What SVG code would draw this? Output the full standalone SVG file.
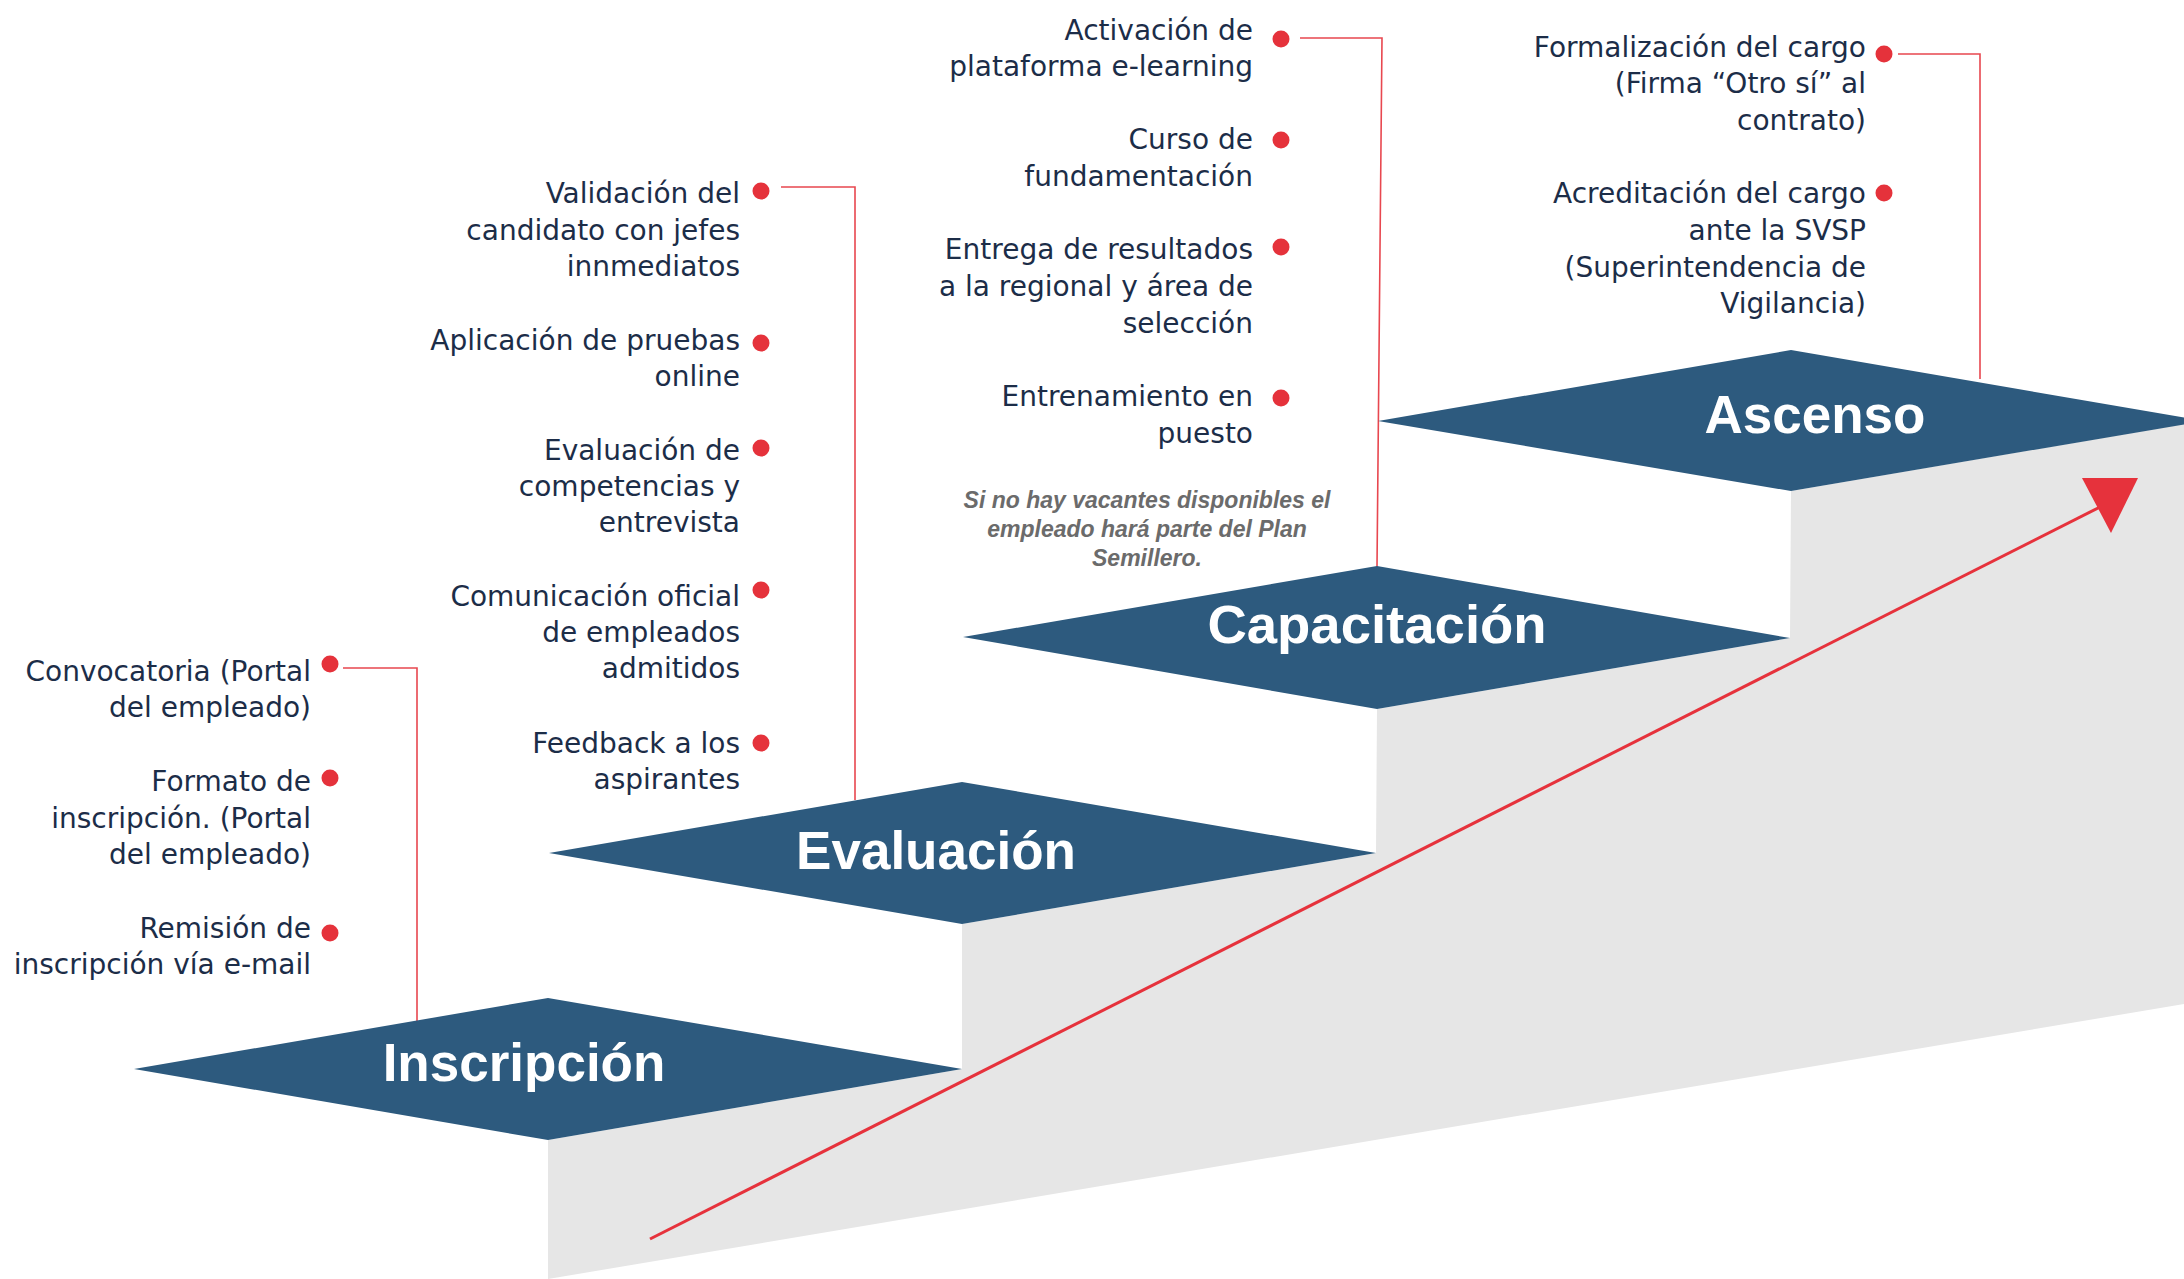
<svg xmlns="http://www.w3.org/2000/svg" width="2184" height="1279" viewBox="0 0 2184 1279">
<style>
.item{font-family:"DejaVu Sans",sans-serif;font-size:28px;fill:#1c2d48;text-anchor:end}
.label{font-family:"Liberation Sans",Arial,sans-serif;font-weight:bold;font-size:53px;fill:#ffffff;text-anchor:middle}
.note{font-family:"Liberation Sans",Arial,sans-serif;font-weight:bold;font-style:italic;font-size:23px;fill:#6b6b6b;text-anchor:middle}
.dia{fill:#2d5a7e}
.dot{fill:#e5323b}
.conn{fill:none;stroke:#e8474f;stroke-width:1.6}
</style>
<rect width="2184" height="1279" fill="#ffffff"/>
<polygon id="stairs-shadow" fill="#e6e6e6" points="548,1140 962,1069 962,924 1376,853 1377,709 1790,638 1791,491 2184,424 2184,1004 548,1279"/>
<g id="connectors">
<path class="conn" d="M343,668 H417 V1021"/>
<path class="conn" d="M781,187 H855 V800"/>
<path class="conn" d="M1300,38 H1382 L1377,567"/>
<path class="conn" d="M1898,54 H1980 V379"/>
<line x1="650" y1="1239" x2="2102" y2="506" stroke="#e6323c" stroke-width="3"/>
<polygon fill="#e6323c" points="2082,478 2138,478 2111,533"/>
</g>
<g id="stage-inscripcion">
<polygon class="dia" points="134,1069 548,998 962,1069 548,1140"/>
<text class="label" x="524" y="1081">Inscripción</text>
</g>
<g id="stage-evaluacion">
<polygon class="dia" points="549,853 962,782 1376,853 962,924"/>
<text class="label" x="936" y="869">Evaluación</text>
</g>
<g id="stage-capacitacion">
<polygon class="dia" points="963,637 1377,566 1790,638 1377,709"/>
<text class="label" x="1377" y="643" style="font-size:54.5px">Capacitación</text>
</g>
<g id="stage-ascenso">
<polygon class="dia" points="1378,421 1791,350 2204,421 1791,491"/>
<text class="label" x="1815" y="433">Ascenso</text>
</g>
<g id="item-convocatoria">
<circle class="dot" cx="330" cy="664" r="8.5"/>
<text class="item"><tspan x="311" y="681">Convocatoria (Portal</tspan><tspan x="311" y="717">del empleado)</tspan></text>
</g>
<g id="item-formato">
<circle class="dot" cx="330" cy="778" r="8.5"/>
<text class="item"><tspan x="311" y="791">Formato de</tspan><tspan x="311" y="828">inscripción. (Portal</tspan><tspan x="311" y="864">del empleado)</tspan></text>
</g>
<g id="item-remision">
<circle class="dot" cx="330" cy="933" r="8.5"/>
<text class="item"><tspan x="311" y="938">Remisión de</tspan><tspan x="311" y="974">inscripción vía e-mail</tspan></text>
</g>
<g id="item-validacion">
<circle class="dot" cx="761" cy="191" r="8.5"/>
<text class="item"><tspan x="740" y="203">Validación del</tspan><tspan x="740" y="239.5">candidato con jefes</tspan><tspan x="740" y="276">innmediatos</tspan></text>
</g>
<g id="item-aplicacion">
<circle class="dot" cx="761" cy="343" r="8.5"/>
<text class="item"><tspan x="740" y="350">Aplicación de pruebas</tspan><tspan x="740" y="386">online</tspan></text>
</g>
<g id="item-evaluacion-comp">
<circle class="dot" cx="761" cy="448" r="8.5"/>
<text class="item"><tspan x="740" y="460">Evaluación de</tspan><tspan x="740" y="496">competencias y</tspan><tspan x="740" y="532">entrevista</tspan></text>
</g>
<g id="item-comunicacion">
<circle class="dot" cx="761" cy="590" r="8.5"/>
<text class="item"><tspan x="740" y="606">Comunicación oficial</tspan><tspan x="740" y="642">de empleados</tspan><tspan x="740" y="678">admitidos</tspan></text>
</g>
<g id="item-feedback">
<circle class="dot" cx="761" cy="743" r="8.5"/>
<text class="item"><tspan x="740" y="753">Feedback a los</tspan><tspan x="740" y="789">aspirantes</tspan></text>
</g>
<g id="item-activacion">
<circle class="dot" cx="1281" cy="39" r="8.5"/>
<text class="item"><tspan x="1253" y="40">Activación de</tspan><tspan x="1253" y="76">plataforma e-learning</tspan></text>
</g>
<g id="item-curso">
<circle class="dot" cx="1281" cy="140" r="8.5"/>
<text class="item"><tspan x="1253" y="149">Curso de</tspan><tspan x="1253" y="186">fundamentación</tspan></text>
</g>
<g id="item-entrega">
<circle class="dot" cx="1281" cy="247" r="8.5"/>
<text class="item"><tspan x="1253" y="259">Entrega de resultados</tspan><tspan x="1253" y="296">a la regional y área de</tspan><tspan x="1253" y="333">selección</tspan></text>
</g>
<g id="item-entrenamiento">
<circle class="dot" cx="1281" cy="398" r="8.5"/>
<text class="item"><tspan x="1253" y="406">Entrenamiento en</tspan><tspan x="1253" y="443">puesto</tspan></text>
</g>
<g id="note-semillero">
<text class="note"><tspan x="1147" y="508">Si no hay vacantes disponibles el</tspan><tspan x="1147" y="537">empleado hará parte del Plan</tspan><tspan x="1147" y="566">Semillero.</tspan></text>
</g>
<g id="item-formalizacion">
<circle class="dot" cx="1884" cy="54" r="8.5"/>
<text class="item"><tspan x="1866" y="57">Formalización del cargo</tspan><tspan x="1866" y="93">(Firma “Otro sí” al</tspan><tspan x="1866" y="130">contrato)</tspan></text>
</g>
<g id="item-acreditacion">
<circle class="dot" cx="1884" cy="193" r="8.5"/>
<text class="item"><tspan x="1866" y="203">Acreditación del cargo</tspan><tspan x="1866" y="240">ante la SVSP</tspan><tspan x="1866" y="277">(Superintendencia de</tspan><tspan x="1866" y="313">Vigilancia)</tspan></text>
</g>
</svg>
